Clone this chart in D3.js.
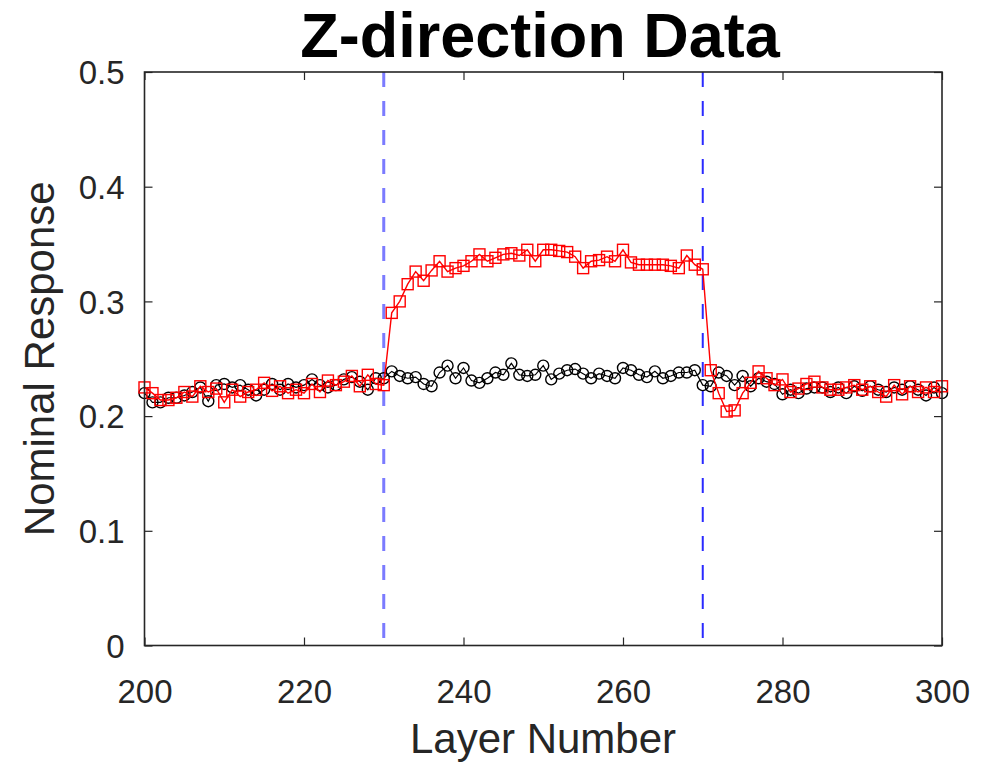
<!DOCTYPE html>
<html>
<head>
<meta charset="utf-8">
<script src="https://cdn.jsdelivr.net/npm/d3@7"></script>
<style>
  html, body { margin: 0; padding: 0; background: #fff; }
  svg { display: block; }
</style>
</head>
<body>
<svg id="chart" width="987" height="765"></svg>
<script>
// ---- data ----
const layers = d3.range(200, 301);
const redValues = [
  0.225, 0.220, 0.214, 0.214, 0.216, 0.221, 0.217, 0.226, 0.221, 0.224,
  0.212, 0.223, 0.217, 0.221, 0.223, 0.229, 0.222, 0.226, 0.220, 0.223,
  0.220, 0.228, 0.221, 0.231, 0.227, 0.230, 0.235, 0.226, 0.236, 0.228,
  0.227, 0.290, 0.300, 0.315, 0.326, 0.318, 0.327, 0.335, 0.326, 0.329,
  0.331, 0.335, 0.341, 0.335, 0.338, 0.341, 0.342, 0.340, 0.345, 0.335,
  0.345, 0.345, 0.344, 0.343, 0.339, 0.329, 0.335, 0.336, 0.339, 0.335,
  0.345, 0.334, 0.332, 0.332, 0.332, 0.332, 0.331, 0.329, 0.340, 0.332,
  0.328, 0.240, 0.220, 0.204, 0.205, 0.220, 0.229, 0.239, 0.233, 0.227,
  0.232, 0.221, 0.224, 0.228, 0.230, 0.225, 0.223, 0.223, 0.225, 0.227,
  0.223, 0.226, 0.221, 0.217, 0.227, 0.219, 0.226, 0.221, 0.225, 0.221,
  0.226
];
const blackValues = [
  0.220, 0.212, 0.212, 0.216, 0.216, 0.218, 0.221, 0.225, 0.213, 0.227,
  0.228, 0.225, 0.227, 0.223, 0.218, 0.223, 0.228, 0.223, 0.228, 0.225,
  0.227, 0.232, 0.227, 0.225, 0.227, 0.232, 0.234, 0.230, 0.223, 0.233,
  0.233, 0.239, 0.235, 0.233, 0.234, 0.228, 0.226, 0.238, 0.244, 0.233,
  0.242, 0.231, 0.229, 0.233, 0.238, 0.236, 0.246, 0.236, 0.235, 0.236,
  0.244, 0.232, 0.237, 0.240, 0.241, 0.237, 0.233, 0.237, 0.235, 0.233,
  0.242, 0.240, 0.236, 0.234, 0.239, 0.233, 0.235, 0.238, 0.238, 0.240,
  0.227, 0.226, 0.238, 0.235, 0.227, 0.235, 0.226, 0.233, 0.230, 0.228,
  0.219, 0.223, 0.220, 0.224, 0.225, 0.225, 0.221, 0.225, 0.220, 0.226,
  0.222, 0.226, 0.223, 0.221, 0.225, 0.223, 0.226, 0.223, 0.218, 0.225,
  0.220
];
const xTicks = [200, 220, 240, 260, 280, 300];
const yTicks = [0, 0.1, 0.2, 0.3, 0.4, 0.5];
const boundaries = [230, 270];
const titleText = "Z-direction Data";
const xLabel = "Layer Number";
const yLabel = "Nominal Response";

// ---- layout ----
const L = 144.5, R = 942, T = 72, B = 645.5;
const svg = d3.select("#chart");
const x = d3.scaleLinear().domain([200, 300]).range([L, R]);
const y = d3.scaleLinear().domain([0, 0.5]).range([B, T]);
const axisColor = "#262626";
const font = "'Liberation Sans', Arial, Helvetica, sans-serif";

// boundary lines
const bColors = ["#7b7bff", "#2a2aff"];
const bWidths = [3, 2];
boundaries.forEach((b, i) => {
  svg.append("line")
    .attr("x1", x(b)).attr("x2", x(b))
    .attr("y1", T).attr("y2", B)
    .attr("stroke", bColors[i])
    .attr("stroke-width", bWidths[i])
    .attr("stroke-dasharray", "15,14");
});

// black series
const line = d3.line().x((d, i) => x(layers[i])).y(d => y(d));
svg.append("path").datum(blackValues)
  .attr("d", line).attr("fill", "none")
  .attr("stroke", "#000").attr("stroke-width", 1.2);
svg.append("g").selectAll("circle").data(blackValues).join("circle")
  .attr("cx", (d, i) => x(layers[i])).attr("cy", d => y(d))
  .attr("r", 5.5).attr("fill", "none")
  .attr("stroke", "#000").attr("stroke-width", 1.4);

// red series
svg.append("path").datum(redValues)
  .attr("d", line).attr("fill", "none")
  .attr("stroke", "#ff0000").attr("stroke-width", 1.4);
const s = 11;
svg.append("g").selectAll("rect").data(redValues).join("rect")
  .attr("x", (d, i) => x(layers[i]) - s / 2).attr("y", d => y(d) - s / 2)
  .attr("width", s).attr("height", s).attr("fill", "none")
  .attr("stroke", "#ff0000").attr("stroke-width", 1.4);

// axes box
const xAxis = d3.axisBottom(x).tickValues(xTicks).tickSize(-8).tickFormat(d3.format("d"));
const yAxis = d3.axisLeft(y).tickValues(yTicks).tickSize(-8).tickFormat(d => d === 0 ? "0" : d3.format(".1f")(d));
const gx = svg.append("g").attr("transform", `translate(0,${B})`).call(xAxis);
const gy = svg.append("g").attr("transform", `translate(${L},0)`).call(yAxis);
[gx, gy].forEach(g => {
  g.select(".domain").remove();
  g.selectAll(".tick line").attr("stroke", axisColor).attr("stroke-width", 1.2);
  g.selectAll(".tick text").attr("fill", axisColor)
    .attr("font-family", font).attr("font-size", 33);
});
gx.selectAll(".tick text").attr("y", 57).attr("dy", 0);
gy.selectAll(".tick text").attr("x", -20).attr("dy", "0.36em");
// right/top ticks
svg.append("g").attr("transform", `translate(0,${T})`)
  .call(d3.axisTop(x).tickValues(xTicks).tickSize(-8).tickFormat(""))
  .call(g => { g.select(".domain").remove(); g.selectAll("line").attr("stroke", axisColor).attr("stroke-width", 1.2); });
svg.append("g").attr("transform", `translate(${R},0)`)
  .call(d3.axisRight(y).tickValues(yTicks).tickSize(-8).tickFormat(""))
  .call(g => { g.select(".domain").remove(); g.selectAll("line").attr("stroke", axisColor).attr("stroke-width", 1.2); });

svg.append("rect")
  .attr("x", L).attr("y", T).attr("width", R - L).attr("height", B - T)
  .attr("fill", "none").attr("stroke", axisColor).attr("stroke-width", 1.6);

// labels
svg.append("text").attr("x", 540).attr("y", 57)
  .attr("text-anchor", "middle").attr("font-family", font)
  .attr("font-weight", "bold").attr("font-size", 63).attr("fill", "#000")
  .text(titleText);
svg.append("text").attr("x", 543).attr("y", 753)
  .attr("text-anchor", "middle").attr("font-family", font)
  .attr("font-size", 42).attr("fill", axisColor)
  .text(xLabel);
svg.append("text")
  .attr("transform", `translate(54,${(T + B) / 2}) rotate(-90)`)
  .attr("text-anchor", "middle").attr("font-family", font)
  .attr("font-size", 42).attr("fill", axisColor)
  .text(yLabel);
</script>
</body>
</html>
